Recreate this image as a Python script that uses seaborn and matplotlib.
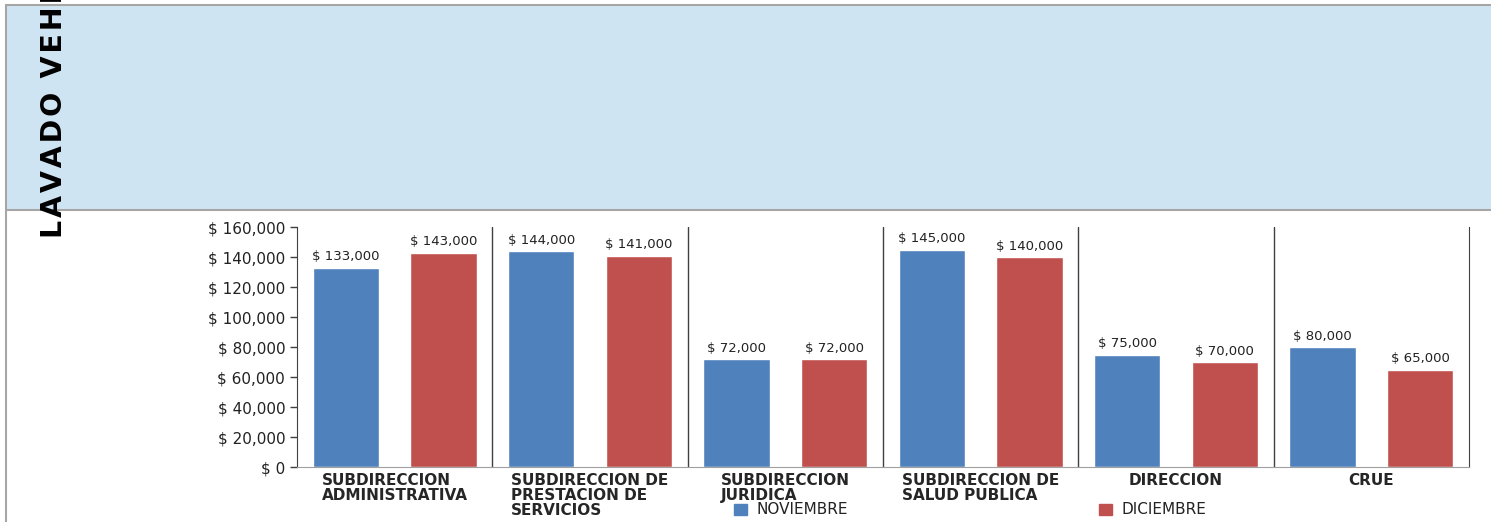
import matplotlib
matplotlib.use('Agg')
import matplotlib.pyplot as plt
import seaborn as sns
import pandas as pd
from matplotlib.lines import Line2D
from matplotlib.patches import Rectangle

# Data
areas = ['SUBDIRECCION\nADMINISTRATIVA', 'SUBDIRECCION DE\nPRESTACION DE\nSERVICIOS',
         'SUBDIRECCION\nJURIDICA', 'SUBDIRECCION DE\nSALUD PUBLICA', 'DIRECCION', 'CRUE']
noviembre = [133000, 144000, 72000, 145000, 75000, 80000]
diciembre = [143000, 141000, 72000, 140000, 70000, 65000]
meses = ['NOVIEMBRE', 'DICIEMBRE']
colores = ['#4F81BD', '#C0504D']
titulo = 'LAVADO VEHICULOS'

df = pd.DataFrame({
    'Area': areas * 2,
    'Valor': noviembre + diciembre,
    'Mes': [meses[0]] * len(areas) + [meses[1]] * len(areas),
})

sns.set_style('white')
plt.rcParams['font.family'] = ['DejaVu Sans']

W, H = 1491, 522
fig = plt.figure(figsize=(W / 100, H / 100), dpi=100)

# header band
fig.patches.append(Rectangle((6 / W, 1 - 210 / H), 1 - 6 / W, 205 / H, transform=fig.transFigure,
                             facecolor='#CFE4F3', edgecolor='none', zorder=0))
for xs, ys in [([6 / W, 1], [1 - 5 / H, 1 - 5 / H]),
               ([6 / W, 1], [1 - 210 / H, 1 - 210 / H]),
               ([6 / W, 6 / W], [0, 1 - 5 / H])]:
    fig.add_artist(Line2D(xs, ys, transform=fig.transFigure, color='#A6A6A6', lw=1.5))

# letter-spaced vertical title (hair spaces between letters)
spaced = '\u200a'.join(titulo).replace('\u200a \u200a', '\u2002')
fig.text(54 / W, 1 - 238 / H, spaced, rotation=90, ha='center', va='bottom',
         fontsize=20.5, fontweight='bold', color='black')

ax = fig.add_axes([297 / W, 1 - 467 / H, (1469 - 297) / W, 240 / H])
sns.barplot(data=df, x='Area', y='Valor', hue='Mes', palette=colores,
            width=1.0, gap=0.32, ax=ax, saturation=1)

for cont in ax.containers:
    ax.bar_label(cont, fmt=lambda v: f'$ {v:,.0f}', padding=3, fontsize=9.5, color='#222222')

ax.set_ylim(0, 160000)
ax.set_xlim(-0.5, len(areas) - 0.5)
ax.set_yticks(range(0, 160001, 20000))
ax.yaxis.set_major_formatter(lambda v, p: f'$ {v:,.0f}')
ax.tick_params(axis='y', direction='out', length=5, width=1, color='#404040',
               labelsize=11, labelcolor='#222222', left=True)
ax.tick_params(axis='x', length=0, pad=4)
for lbl in ax.get_xticklabels():
    lbl.set_fontweight('bold')
    lbl.set_fontsize(11)
    lbl.set_multialignment('left')
    lbl.set_linespacing(1.0)
ax.set_xlabel('')
ax.set_ylabel('')

for x in range(len(areas) - 1):
    ax.axvline(x + 0.5, color='#404040', lw=1)
ax.spines['top'].set_visible(False)
ax.spines['left'].set_color('#404040')
ax.spines['right'].set_color('#404040')
ax.spines['bottom'].set_color('#A0A0A0')

ax.get_legend().remove()
handles = [Rectangle((0, 0), 1, 1, color=c) for c in colores]
fig.legend(handles, meses, loc='center', bbox_to_anchor=(970 / W, 1 - 510 / H), ncol=2,
           frameon=False, fontsize=11, handlelength=0.9, handleheight=0.7,
           handletextpad=0.6, columnspacing=16.4, labelcolor='#222222',
           borderpad=0, borderaxespad=0)

fig.savefig('out.png', dpi=100)
